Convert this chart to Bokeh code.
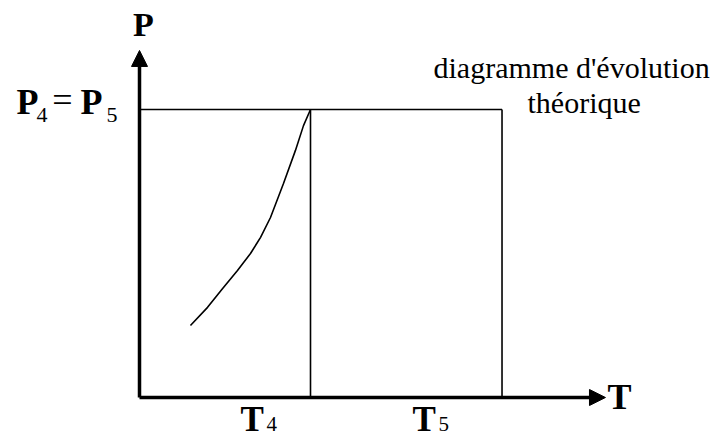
from bokeh.plotting import figure
from bokeh.models import Range1d, Arrow, NormalHead
from bokeh.core.properties import value
from bokeh.embed import file_html
from bokeh.resources import INLINE

# ---- data (physical units: T4 = 1, P4 = 1) ----
t_marks = [1.0, 2.12]          # T4, T5
p_mark = 1.0                   # P4 = P5
t_axis_end = 2.725
p_axis_end = 1.205
curve_t = [0.298, 0.398, 0.485, 0.573, 0.649, 0.708, 0.766, 0.842, 0.912, 0.959, 1.0]
curve_p = [0.250, 0.313, 0.378, 0.441, 0.500, 0.556, 0.625, 0.743, 0.858, 0.944, 1.0]
tick_subs = ["4", "5"]
title_lines = ["diagramme d'évolution", "théorique"]

# pixel geometry of the frame (picture pixel -> data)
X0, Y0, SX, SY = 139.0, 397.0, 171.0, 288.0
DY = -11.0   # correction of the rendered baseline
def xd(px):
    return (px - X0) / SX
def yd(py):
    return (Y0 - py) / SY
def ty(py):
    return yd(py + DY)

W, H = 715, 440
p = figure(width=W, height=H, output_backend="svg", toolbar_location=None,
           x_range=Range1d(xd(0), xd(W)), y_range=Range1d(yd(H), yd(0)),
           min_border=0, outline_line_color=None)
p.axis.visible = False
p.grid.visible = False
p.background_fill_color = "white"

SERIF = value("Liberation Serif")

# axes with arrows
p.add_layout(Arrow(x_start=0, y_start=0, x_end=t_axis_end, y_end=0, line_width=3.5,
                   line_color="black",
                   end=NormalHead(size=16, fill_color="black", line_color="black")))
p.add_layout(Arrow(x_start=0, y_start=0, x_end=0, y_end=p_axis_end, line_width=3.5,
                   line_color="black",
                   end=NormalHead(size=16, fill_color="black", line_color="black")))

# isobar and isotherms
p.line([0, t_marks[1]], [p_mark, p_mark], line_width=1.6, line_color="black")
for t in t_marks:
    p.line([t, t], [0, p_mark], line_width=1.6, line_color="black")

# curve
p.line(curve_t, curve_p, line_width=1.6, line_color="black")

# axis titles
p.text([xd(143)], [ty(35)], text=["P"], text_font=SERIF, text_font_style="bold",
       text_font_size="34px", text_align="center", text_baseline="alphabetic")
p.text([xd(607)], [ty(407)], text=["T"], text_font=SERIF, text_font_style="bold",
       text_font_size="36px", text_align="left", text_baseline="alphabetic")

# P4 = P5
p.text([xd(16)], [ty(112)], text=["P"], text_font=SERIF, text_font_style="bold",
       text_font_size="36px", text_align="left", text_baseline="alphabetic")
p.text([xd(36)], [ty(125)], text=["4"], text_font=SERIF,
       text_font_size="22px", text_align="left", text_baseline="alphabetic")
p.text([xd(62)], [ty(110)], text=["="], text_font=SERIF,
       text_font_size="36px", text_align="center", text_baseline="alphabetic")
p.text([xd(80)], [ty(112)], text=["P"], text_font=SERIF, text_font_style="bold",
       text_font_size="36px", text_align="left", text_baseline="alphabetic")
p.text([xd(106)], [ty(125)], text=["5"], text_font=SERIF,
       text_font_size="22px", text_align="left", text_baseline="alphabetic")

# T4, T5 labels
t_label_px = [240, 412]
for lx, sub in zip(t_label_px, tick_subs):
    p.text([xd(lx)], [ty(430)], text=["T"], text_font=SERIF, text_font_style="bold",
           text_font_size="35px", text_align="left", text_baseline="alphabetic")
    p.text([xd(lx + 26)], [ty(434)], text=[sub], text_font=SERIF,
           text_font_size="21px", text_align="left", text_baseline="alphabetic")

# annotation
p.text([xd(433)], [ty(78)], text=[title_lines[0]], text_font=SERIF,
       text_font_size="30px", text_align="left", text_baseline="alphabetic")
p.text([xd(527)], [ty(113)], text=[title_lines[1]], text_font=SERIF,
       text_font_size="30px", text_align="left", text_baseline="alphabetic")

open("out.html", "w").write(file_html(p, INLINE))
